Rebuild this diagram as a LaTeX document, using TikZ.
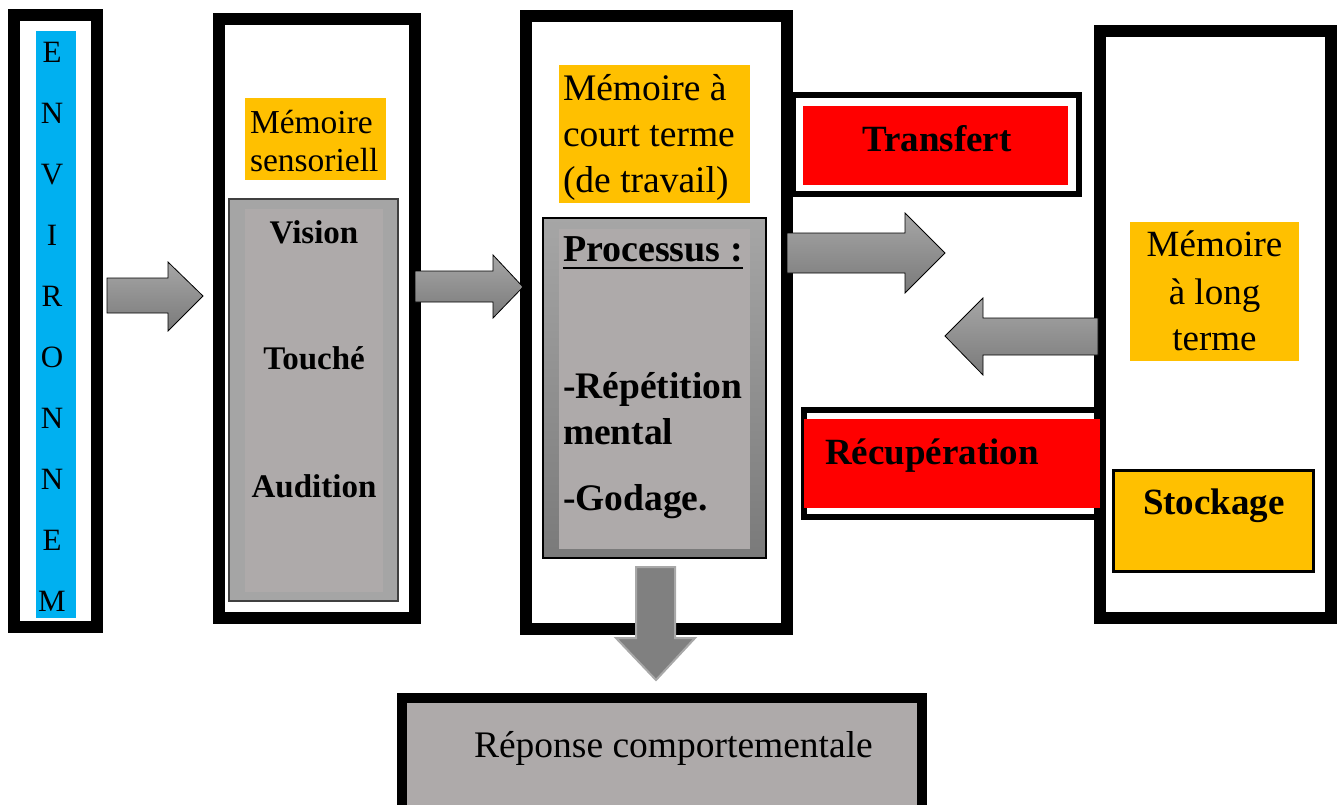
\documentclass[tikz,border=0pt]{standalone}
\usepackage{fontspec}
\setmainfont{Liberation Serif}
\definecolor{envblue}{HTML}{00B0F0}
\definecolor{orangeA}{HTML}{FFC000}
\definecolor{redA}{HTML}{FF0000}
\definecolor{grayA}{HTML}{A5A5A5}
\definecolor{grayB}{HTML}{AEAAAA}
\definecolor{grayTop}{HTML}{A6A6A6}
\definecolor{grayBot}{HTML}{7A7A7A}
\definecolor{grayDown}{HTML}{808080}
\definecolor{grayEdge}{HTML}{A8A8A8}
\definecolor{grayLine}{HTML}{404040}
\newcommand\myfs[2]{\fontsize{#1}{#2}\selectfont}
\tikzset{
  frame/.style={draw=black, line width=12, fill=white},
  thinframe/.style={draw=black, line width=6, fill=white},
  lbl/.style={inner sep=0pt, outer sep=0pt, anchor=base},
  lblw/.style={inner sep=0pt, outer sep=0pt, anchor=base west},
  barrow/.style={draw=black, line width=0.8, top color=grayTop, bottom color=grayBot},
  darrow/.style={draw=grayEdge, line width=2, fill=grayDown},
}
\begin{document}
\begin{tikzpicture}[x=1pt,y=-1pt]
\useasboundingbox (0,0) rectangle (1343,804);
\clip (0,0) rectangle (1343,804);

% --- Environnement
\draw[frame] (14,15) rectangle (97,627);
\fill[envblue] (36,31) rectangle (76,618);
\foreach \L [count=\i from 0] in {E,N,V,I,R,O,N,N,E,M}
  \node[lbl] (env\i) at (52,{62+61.1*\i}) {\myfs{31}{31}\L};

% --- Memoire sensorielle
\draw[frame] (219,19) rectangle (415,618);
\fill[orangeA] (245,98) rectangle (386,180);
\node[lblw] (sensA) at (250,133) {\myfs{33.5}{33.5}Mémoire};
\node[lblw] (sensB) at (250,171) {\myfs{33.5}{33.5}sensoriell};
\draw[draw=grayLine, line width=1.5, fill=grayA] (229,199) rectangle (398,601);
\fill[grayB] (245,209) rectangle (383,592);
\node[lbl] (vision) at (314,243) {\myfs{33}{33}\bfseries Vision};
\node[lbl] (touche) at (314,369) {\myfs{33}{33}\bfseries Touché};
\node[lbl] (audition) at (314,497) {\myfs{33}{33}\bfseries Audition};

% --- Memoire a court terme
\draw[frame] (526,16) rectangle (787,629);
\fill[orangeA] (559,65) rectangle (750,203);
\node[lblw] (mctA) at (563,100) {\myfs{37.5}{37.5}Mémoire à};
\node[lblw] (mctB) at (563,146) {\myfs{37.5}{37.5}court terme};
\node[lblw] (mctC) at (563,192) {\myfs{37.5}{37.5}(de travail)};
\draw[draw=black, line width=1.5, top color=grayTop, bottom color=grayBot] (543,218) rectangle (766,558);
\fill[grayB] (559,229) rectangle (750,549);
\node[lblw] (proc) at (563,261) {\myfs{38}{38}\bfseries Processus :};
\draw[line width=2.6] ([yshift=-7pt]proc.base west) -- ([yshift=-7pt]proc.base east);
\node[lblw] (rep) at (563,398) {\myfs{37.5}{37.5}\bfseries -Répétition};
\node[lblw] (ment) at (563,444) {\myfs{37.5}{37.5}\bfseries mental};
\node[lblw] (god) at (563,510) {\myfs{37.5}{37.5}\bfseries -Godage.};

% --- Memoire a long terme
\draw[frame] (1100,31) rectangle (1331,618);
\fill[orangeA] (1130,222) rectangle (1299,361);
\node[lbl] (mltA) at (1214.5,256) {\myfs{37}{37}Mémoire};
\node[lbl] (mltB) at (1214.5,304) {\myfs{37}{37}à long};
\node[lbl] (mltC) at (1214.5,350) {\myfs{37}{37}terme};
\draw[draw=black, line width=3, fill=orangeA] (1113.5,470.5) rectangle (1313.5,571.5);
\node[lbl] (stock) at (1214,514) {\myfs{37}{37}\bfseries Stockage};

% --- Transfert
\draw[thinframe] (793,95) rectangle (1079,194);
\fill[redA] (803,106) rectangle (1068,185);
\node[lbl] (transfert) at (937,151) {\myfs{37}{37}\bfseries Transfert};

% --- Recuperation
\draw[thinframe] (804,410) rectangle (1097,517);
\fill[redA] (804,419) rectangle (1100,508);
\node[lblw] (recup) at (825,464) {\myfs{37}{37}\bfseries Récupération};

% --- Reponse comportementale
\draw[draw=black, line width=10, fill=grayB] (402,698) rectangle (922,850);
\node[lblw] (reponse) at (474,757) {\myfs{37.5}{37.5}Réponse comportementale};

% --- Block arrows
\draw[barrow] (107,278) -- (168,278) -- (168,262) -- (203,296) -- (168,331) -- (168,313) -- (107,313) -- cycle;
\draw[barrow] (415,271) -- (493,271) -- (493,255) -- (523,287) -- (493,318) -- (493,302) -- (415,302) -- cycle;
\draw[barrow] (787,233) -- (905,233) -- (905,213) -- (945,253) -- (905,293) -- (905,273) -- (787,273) -- cycle;
\draw[barrow] (1098,318) -- (983,318) -- (983,298) -- (945,336) -- (983,375) -- (983,355) -- (1098,355) -- cycle;
\draw[darrow] (636,567) -- (675,567) -- (675,638) -- (695,638) -- (656,680) -- (616,638) -- (636,638) -- cycle;
\end{tikzpicture}
\end{document}
